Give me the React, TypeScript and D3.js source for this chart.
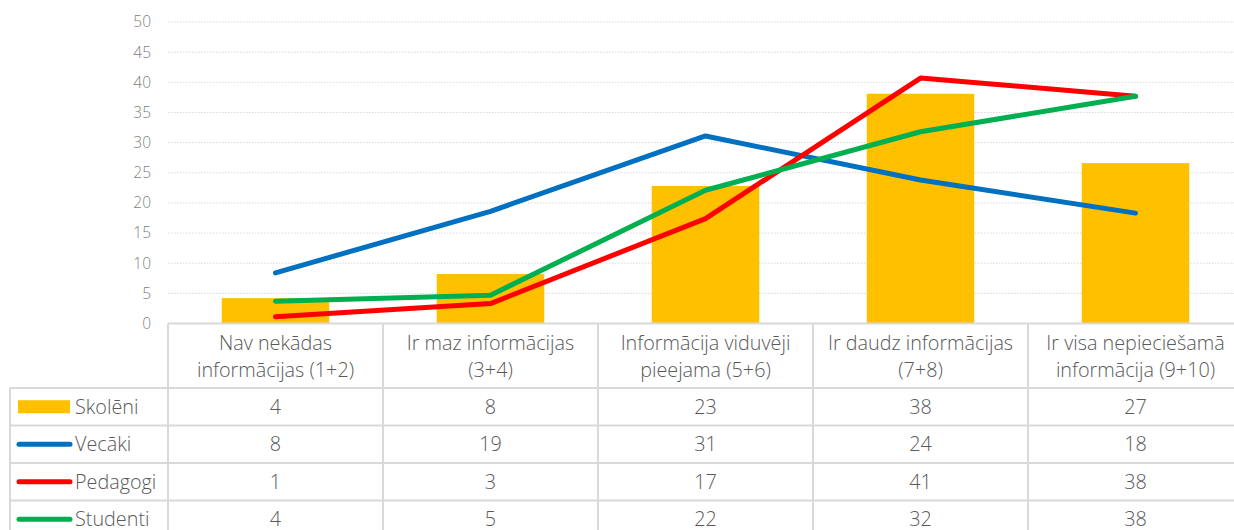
import React from "react";
import * as d3 from "d3";

const categories: string[][] = [
  ["Nav nekādas", "informācijas (1+2)"],
  ["Ir maz informācijas", "(3+4)"],
  ["Informācija viduvēji", "pieejama (5+6)"],
  ["Ir daudz informācijas", "(7+8)"],
  ["Ir visa nepieciešamā", "informācija (9+10)"],
];
const skoleni = [4.2, 8.2, 22.8, 38.1, 26.6];
const vecaki = [8.4, 18.6, 31.1, 23.8, 18.3];
const pedagogi = [1.1, 3.3, 17.4, 40.7, 37.7];
const studenti = [3.7, 4.7, 22.1, 31.8, 37.7];
const yTicks = [0, 5, 10, 15, 20, 25, 30, 35, 40, 45, 50];

const series = [
  { name: "Skolēni", values: skoleni, color: "#FFC000", type: "bar" },
  { name: "Vecāki", values: vecaki, color: "#0070C0", type: "line" },
  { name: "Pedagogi", values: pedagogi, color: "#FF0000", type: "line" },
  { name: "Studenti", values: studenti, color: "#00B050", type: "line" },
];

const W = 1234;
const H = 530;
const left = 168;
const right = 1243;
const top = 22;
const bottom = 323.5;
const tableLeft = 10;
const headerBottom = 388;
const rowH = 37.5;
const font = "'Segoe UI', 'Open Sans', 'Noto Sans', sans-serif";
const gridColor = "#d9d9d9";
const textColor = "#595959";
const fs = 19.8;

export default function App() {
  const x = d3.scaleBand<number>().domain(d3.range(categories.length)).range([left, right]).paddingInner(0).paddingOuter(0);
  const y = d3.scaleLinear().domain([0, 50]).range([bottom, top]);
  const bw = x.bandwidth();
  const barW = bw * 0.5;
  const line = d3
    .line<number>()
    .x((_, i) => (x(i) as number) + bw / 2)
    .y((d) => y(d));

  const rows = series.map((s, r) => headerBottom + r * rowH);

  return (
    <svg width={W} height={H} style={{ position: "absolute", left: 0, top: 0 }} fontFamily={font} fontWeight={300}>
      {yTicks.map((t) => (
        <g key={t}>
          {t > 0 && (
            <line x1={left} x2={right} y1={y(t)} y2={y(t)} stroke={gridColor} strokeWidth={1} strokeDasharray="1.5,1.5" />
          )}
          <text x={151} y={y(t)} dy="0.35em" textAnchor="end" fontSize={15.5} fill="#7f7f7f">
            {t}
          </text>
        </g>
      ))}
      {skoleni.map((v, i) => (
        <rect key={i} x={(x(i) as number) + (bw - barW) / 2} y={y(v)} width={barW} height={y(0) - y(v)} fill="#FFC000" />
      ))}
      {series
        .filter((s) => s.type === "line")
        .map((s) => (
          <path key={s.name} d={line(s.values) as string} fill="none" stroke={s.color} strokeWidth={5} strokeLinecap="round" strokeLinejoin="round" />
        ))}
      <g stroke={gridColor} strokeWidth={2} fill="none">
        <line x1={left} x2={right} y1={bottom} y2={bottom} />
        {d3.range(categories.length + 1).map((i) => {
          const xx = i < categories.length ? (x(i) as number) : right;
          return <line key={i} x1={xx} x2={xx} y1={bottom} y2={H + 10} />;
        })}
        <line x1={tableLeft} x2={tableLeft} y1={headerBottom} y2={H + 10} />
        {rows.map((ry, r) => (
          <line key={r} x1={tableLeft} x2={right} y1={ry} y2={ry} />
        ))}
      </g>
      {categories.map((c, i) => (
        <text key={i} x={(x(i) as number) + bw / 2} textAnchor="middle" fontSize={fs} fill={textColor}>
          <tspan x={(x(i) as number) + bw / 2} y={349.5}>{c[0]}</tspan>
          <tspan x={(x(i) as number) + bw / 2} y={376.5}>{c[1]}</tspan>
        </text>
      ))}
      {series.map((s, r) => {
        const cy = rows[r] + rowH / 2;
        return (
          <g key={s.name}>
            {s.type === "bar" ? (
              <rect x={18} y={cy - 6.5} width={52} height={13} fill={s.color} />
            ) : (
              <line x1={19} x2={70} y1={cy} y2={cy} stroke={s.color} strokeWidth={5} strokeLinecap="round" />
            )}
            <text x={75} y={cy} dy="0.35em" fontSize={fs} fill={textColor}>
              {s.name}
            </text>
            {s.values.map((v, i) => (
              <text key={i} x={(x(i) as number) + bw / 2} y={cy} dy="0.35em" textAnchor="middle" fontSize={fs} fill={textColor}>
                {Math.round(v)}
              </text>
            ))}
          </g>
        );
      })}
    </svg>
  );
}
